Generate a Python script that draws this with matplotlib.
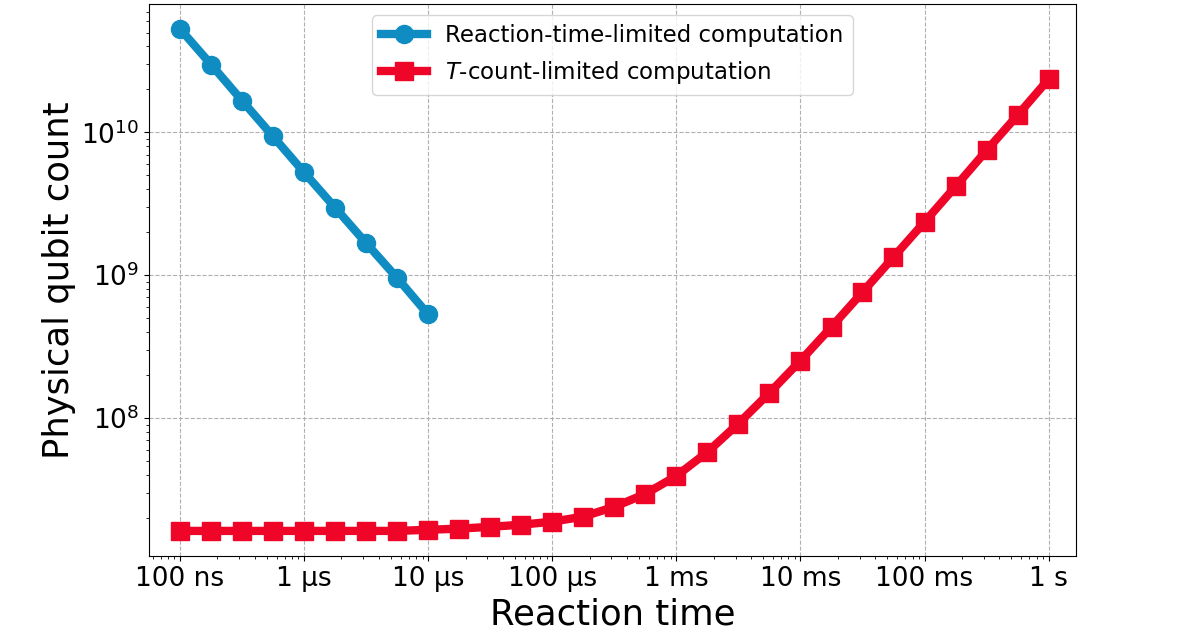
import matplotlib
matplotlib.use('Agg')
import matplotlib.pyplot as plt
from matplotlib.ticker import FixedLocator, FixedFormatter

# reaction times (s), quarter-decade steps
t_reaction = [1e-7, 1.78e-7, 3.16e-7, 5.62e-7, 1e-6, 1.78e-6, 3.16e-6, 5.62e-6, 1e-5]
t_tcount = [1e-7, 1.78e-7, 3.16e-7, 5.62e-7, 1e-6, 1.78e-6, 3.16e-6, 5.62e-6,
            1e-5, 1.78e-5, 3.16e-5, 5.62e-5, 1e-4, 1.78e-4, 3.16e-4, 5.62e-4,
            1e-3, 1.78e-3, 3.16e-3, 5.62e-3, 1e-2, 1.78e-2, 3.16e-2, 5.62e-2,
            1e-1, 1.78e-1, 3.16e-1, 5.62e-1, 1.0]

qubits_reaction = [5.31e10, 2.99e10, 1.67e10, 9.38e9, 5.25e9, 2.97e9, 1.68e9, 9.57e8, 5.31e8]
qubits_tcount = [1.62e7, 1.62e7, 1.62e7, 1.62e7, 1.62e7, 1.62e7, 1.62e7, 1.62e7,
                 1.65e7, 1.68e7, 1.73e7, 1.79e7, 1.88e7, 2.04e7, 2.39e7, 2.94e7,
                 3.93e7, 5.78e7, 9.14e7, 1.50e8, 2.52e8, 4.35e8, 7.60e8, 1.34e9,
                 2.36e9, 4.19e9, 7.48e9, 1.32e10, 2.36e10]

tick_pos = [1e-7, 1e-6, 1e-5, 1e-4, 1e-3, 1e-2, 1e-1, 1.0]
tick_labels = ['100 ns', '1 μs', '10 μs', '100 μs', '1 ms', '10 ms', '100 ms', '1 s']

fig = plt.figure(figsize=(11.96, 6.35), dpi=100)
ax = fig.add_axes([0.1246, 0.1244, 0.7750, 0.8696])

ax.plot(t_reaction, qubits_reaction, '-o', color='#0F8DC2', linewidth=6,
        markersize=13, label='Reaction-time-limited computation')
ax.plot(t_tcount, qubits_tcount, '-s', color='#EE0527', linewidth=6,
        markersize=13, label='$T$-count-limited computation')

ax.set_xscale('log')
ax.set_yscale('log')
ax.set_xlim(10 ** -7.25, 10 ** 0.22)

ax.xaxis.set_major_locator(FixedLocator(tick_pos))
ax.xaxis.set_major_formatter(FixedFormatter(tick_labels))
ax.tick_params(axis='both', which='major', labelsize=19)

ax.grid(True, which='major', linestyle='--', color='#b0b0b0')
ax.set_xlabel('Reaction time', fontsize=25.5)
ax.set_ylabel('Physical qubit count', fontsize=25.5)
ax.legend(loc='upper center', fontsize=16.5)

fig.savefig('out.png', dpi=100)
